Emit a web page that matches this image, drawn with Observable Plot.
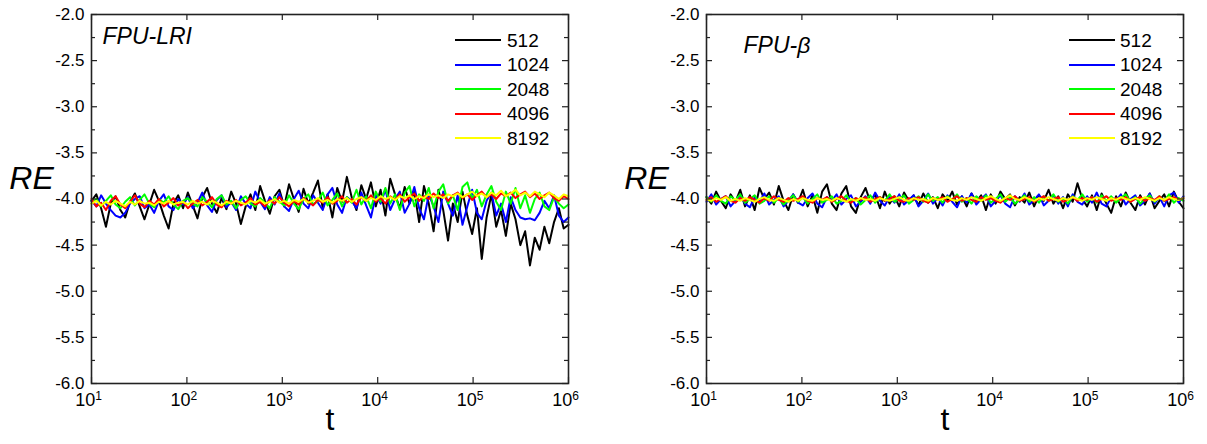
<!DOCTYPE html>
<html><head><meta charset="utf-8">
<script src="https://cdn.jsdelivr.net/npm/d3@7"></script>
<script src="https://cdn.jsdelivr.net/npm/@observablehq/plot@0.6"></script>
<style>
body{margin:0;background:#fff;}
#wrap{position:relative;width:1207px;height:444px;display:flex;}
#wrap svg{display:block;}
.lg{position:absolute;font-family:"Liberation Sans",Arial,sans-serif;font-size:19px;line-height:19px;color:#000;white-space:nowrap;}
.lgl{position:absolute;height:2px;width:46px;}
</style></head><body><div id="wrap"></div>
<script>
const sizes = ["512","1024","2048","4096","8192"];
const colors = ["#000000","#0000ff","#00ff00","#ff0000","#ffff00"];
const yMajor = [-6,-5.5,-5,-4.5,-4,-3.5,-3,-2.5,-2];
const yMinor = [-5.75,-5.25,-4.75,-4.25,-3.75,-3.25,-2.75,-2.25];
const xTicks = [1e1,1e2,1e3,1e4,1e5,1e6];
const xTickBase = "10";
const xTickExponents = ["1","2","3","4","5","6"];
const panelTitles = ["FPU-LRI","FPU-\u03b2"];
const nPoints = 100;

// FPU-LRI panel
const lri512 = [-4.02,-3.95,-4.10,-4.30,-4.05,-3.97,-4.12,-4.20,-4.03,-3.94,
-4.08,-4.22,-4.06,-3.90,-4.02,-4.18,-4.32,-4.05,-3.96,-4.10,
-3.93,-4.07,-4.21,-3.98,-3.88,-4.05,-4.15,-3.99,-4.11,-3.92,
-4.05,-4.27,-4.08,-3.95,-4.12,-3.86,-4.02,-4.16,-3.97,-3.90,
-4.08,-3.84,-4.00,-4.14,-3.89,-4.05,-3.93,-3.80,-4.10,-3.95,
-4.20,-3.88,-4.03,-3.76,-3.98,-4.12,-3.85,-4.00,-3.82,-4.08,
-3.90,-4.18,-3.78,-3.95,-4.10,-3.87,-4.05,-3.92,-4.25,-3.86,
-4.05,-4.35,-3.90,-4.12,-4.45,-4.05,-4.25,-3.92,-4.18,-4.38,
-4.10,-4.65,-4.20,-3.95,-4.30,-4.12,-4.40,-4.05,-4.22,-4.50,
-4.35,-4.72,-4.42,-4.55,-4.30,-4.48,-4.25,-4.10,-4.32,-4.28];
const lri1024 = [-4.02,-4.08,-3.96,-4.05,-4.12,-4.18,-4.20,-4.15,-4.05,-4.00,
-3.97,-4.10,-4.06,-4.15,-4.02,-3.95,-4.08,-4.12,-4.00,-4.06,
-3.98,-4.10,-4.04,-3.93,-4.07,-4.14,-4.01,-3.96,-4.09,-4.03,
-4.12,-3.97,-4.05,-4.10,-3.92,-4.03,-4.11,-3.98,-4.06,-3.94,
-4.08,-4.13,-4.00,-3.91,-4.05,-4.10,-3.96,-4.04,-4.12,-3.95,
-3.88,-4.06,-4.15,-3.98,-4.02,-4.10,-3.93,-4.07,-4.20,-3.96,
-4.05,-3.90,-4.12,-4.00,-3.92,-4.15,-4.05,-3.87,-4.10,-4.22,
-3.95,-4.08,-4.25,-3.92,-4.05,-4.18,-3.96,-4.28,-4.08,-3.90,
-4.15,-4.22,-4.02,-3.93,-4.18,-4.05,-4.25,-3.98,-4.12,-4.20,
-4.22,-4.21,-4.23,-4.15,-4.02,-4.10,-3.96,-4.18,-4.25,-4.20];
const lri2048 = [-4.05,-4.00,-4.08,-4.02,-3.96,-4.06,-4.10,-4.03,-3.98,-4.07,
-4.01,-3.95,-4.05,-4.09,-4.00,-4.04,-3.97,-4.06,-4.11,-4.02,
-3.99,-4.05,-4.08,-3.98,-4.03,-4.09,-4.00,-3.96,-4.06,-4.02,
-4.10,-4.01,-3.97,-4.05,-4.08,-3.99,-4.04,-4.10,-3.98,-4.03,
-4.07,-3.96,-4.05,-4.11,-4.00,-3.95,-4.06,-4.02,-3.93,-4.07,
-4.01,-3.94,-4.08,-3.98,-4.04,-3.90,-4.06,-3.97,-4.10,-3.92,
-4.03,-3.88,-4.05,-3.95,-4.12,-3.93,-3.86,-4.08,-3.95,-4.02,
-3.88,-4.10,-3.92,-3.84,-4.05,-3.96,-4.12,-3.87,-3.82,-4.00,
-3.90,-4.08,-3.95,-3.86,-4.03,-4.12,-3.92,-4.05,-3.88,-4.10,
-3.96,-4.15,-4.00,-3.93,-4.08,-4.12,-3.98,-4.05,-4.10,-4.06];
const lri4096 = [-4.00,-4.08,-4.04,-4.12,-4.02,-3.97,-4.06,-4.10,-4.03,-3.96,
-4.05,-4.09,-4.02,-4.06,-4.00,-4.08,-4.04,-3.99,-4.07,-4.03,
-4.10,-4.05,-4.01,-4.07,-4.03,-3.98,-4.06,-4.09,-4.02,-4.05,
-4.01,-4.07,-4.04,-3.99,-4.06,-4.03,-4.08,-4.01,-4.05,-3.98,
-4.04,-4.08,-4.02,-4.06,-3.99,-4.03,-4.07,-4.01,-4.04,-3.98,
-4.05,-4.02,-3.97,-4.04,-4.00,-4.06,-3.98,-4.02,-3.96,-4.03,
-3.99,-4.05,-3.97,-4.01,-3.95,-4.03,-3.98,-3.94,-4.02,-3.97,
-4.00,-3.94,-3.99,-3.95,-4.02,-3.96,-3.93,-3.99,-3.95,-4.01,
-3.96,-3.92,-3.98,-3.95,-4.00,-3.94,-3.97,-3.93,-3.99,-3.95,
-3.92,-3.98,-3.94,-4.00,-3.96,-3.93,-3.99,-4.02,-3.97,-4.00];
const lri8192 = [-4.05,-4.02,-4.07,-4.03,-4.06,-4.02,-4.05,-4.08,-4.03,-4.06,
-4.02,-4.05,-4.04,-4.07,-4.03,-4.05,-4.02,-4.06,-4.04,-4.03,
-4.06,-4.02,-4.05,-4.03,-4.06,-4.02,-4.04,-4.07,-4.03,-4.05,
-4.02,-4.04,-4.06,-4.02,-4.04,-4.01,-4.05,-4.03,-4.00,-4.04,
-4.02,-4.05,-4.01,-4.03,-4.00,-4.04,-4.02,-3.99,-4.03,-4.01,
-4.04,-4.00,-4.02,-3.99,-4.03,-4.00,-3.98,-4.02,-3.99,-4.01,
-3.97,-4.00,-3.98,-4.01,-3.97,-3.99,-3.96,-4.00,-3.97,-3.99,
-3.95,-3.98,-3.96,-3.99,-3.95,-3.97,-3.94,-3.98,-3.95,-3.92,
-3.97,-3.94,-3.98,-3.93,-3.96,-3.91,-3.97,-3.94,-3.90,-3.96,
-3.93,-3.97,-3.92,-3.95,-3.98,-3.93,-3.96,-4.00,-3.95,-3.97];

// FPU-beta panel
const beta512 = [-3.98,-4.05,-3.92,-4.02,-4.10,-3.95,-4.03,-3.90,-4.08,-3.96,
-4.12,-3.88,-4.00,-3.93,-4.06,-3.86,-4.02,-4.12,-3.95,-4.04,
-3.90,-4.08,-3.96,-4.15,-3.92,-3.84,-4.05,-4.12,-3.94,-3.86,
-4.08,-4.15,-3.98,-3.88,-4.03,-3.95,-4.10,-3.92,-4.05,-3.97,
-4.08,-3.93,-4.02,-3.96,-4.07,-3.94,-4.04,-3.98,-4.10,-3.95,
-4.02,-3.92,-4.06,-3.97,-4.08,-3.94,-4.03,-3.96,-4.12,-3.95,
-4.05,-3.92,-4.00,-3.95,-4.07,-3.98,-4.04,-3.93,-4.08,-3.96,
-4.02,-3.90,-4.05,-3.97,-4.10,-3.95,-4.03,-3.83,-4.00,-4.08,
-3.96,-4.12,-3.94,-4.05,-4.15,-3.97,-4.08,-3.93,-4.04,-4.12,
-3.96,-4.06,-3.94,-4.10,-4.02,-3.95,-4.08,-3.92,-4.03,-4.10];
const beta1024 = [-4.03,-3.95,-4.06,-4.00,-3.97,-4.08,-4.02,-3.96,-4.05,-4.09,
-3.98,-4.03,-3.94,-4.06,-4.01,-3.97,-4.08,-4.02,-3.95,-4.04,
-4.07,-3.99,-3.94,-4.05,-4.09,-3.98,-4.02,-3.95,-4.06,-4.00,
-3.96,-4.08,-4.03,-3.97,-4.05,-3.93,-4.02,-4.07,-3.98,-4.04,
-3.95,-4.06,-4.01,-3.96,-4.08,-4.02,-3.94,-4.05,-3.99,-4.07,
-3.96,-4.03,-4.09,-3.97,-4.04,-3.94,-4.06,-4.00,-3.95,-4.08,
-4.02,-3.96,-4.05,-4.09,-3.97,-4.03,-3.94,-4.06,-4.01,-3.95,
-4.07,-4.02,-3.96,-4.05,-3.98,-4.08,-3.95,-4.03,-4.06,-3.97,
-4.04,-3.93,-4.05,-4.08,-3.98,-4.02,-3.95,-4.06,-4.00,-3.96,
-4.07,-4.02,-3.94,-4.05,-3.98,-4.08,-3.96,-3.93,-4.04,-3.97];
const beta2048 = [-3.98,-4.03,-3.96,-4.02,-4.05,-3.97,-4.01,-3.95,-4.04,-4.00,
-3.96,-4.05,-4.02,-3.97,-4.04,-3.99,-4.06,-4.01,-3.96,-4.03,
-3.98,-4.05,-4.00,-3.95,-4.04,-4.01,-3.97,-4.05,-4.02,-3.96,
-4.03,-3.99,-4.06,-4.01,-3.96,-4.04,-3.98,-4.02,-3.95,-4.03,
-4.00,-3.96,-4.05,-4.01,-3.97,-4.03,-3.95,-4.02,-3.98,-4.04,
-3.97,-4.01,-3.95,-4.03,-3.99,-4.05,-3.97,-4.02,-3.96,-4.04,
-4.00,-3.95,-4.03,-3.98,-4.05,-4.01,-3.96,-4.03,-3.98,-4.04,
-3.97,-4.02,-3.95,-4.03,-3.99,-4.05,-3.97,-4.01,-3.95,-4.03,
-3.98,-4.04,-3.96,-4.02,-3.97,-4.04,-3.99,-3.95,-4.03,-3.98,
-4.05,-4.00,-3.96,-4.03,-3.97,-4.02,-3.95,-4.04,-3.99,-4.02];
const beta4096 = [-4.01,-3.98,-4.03,-4.00,-3.97,-4.02,-4.04,-3.99,-4.02,-3.98,
-4.01,-4.04,-3.99,-4.02,-3.97,-4.01,-4.03,-3.99,-4.02,-4.00,
-3.97,-4.02,-4.04,-3.99,-4.01,-3.98,-4.03,-4.00,-3.97,-4.02,
-4.04,-3.99,-4.01,-3.98,-4.03,-4.00,-3.98,-4.02,-4.00,-3.97,
-4.02,-4.03,-3.99,-4.01,-3.98,-4.02,-4.04,-3.99,-4.01,-3.98,
-4.03,-4.00,-3.97,-4.02,-3.99,-4.01,-4.03,-3.98,-4.01,-3.99,
-4.02,-4.04,-3.99,-4.01,-3.97,-4.02,-4.00,-3.98,-4.03,-4.00,
-3.97,-4.02,-4.00,-3.98,-4.03,-4.01,-3.98,-4.02,-3.99,-4.01,
-3.98,-4.03,-4.00,-3.97,-4.02,-3.99,-4.01,-3.98,-4.03,-4.00,
-3.98,-4.02,-3.99,-4.01,-3.97,-4.02,-4.00,-3.98,-4.01,-3.99];
const beta8192 = [-4.00,-4.02,-3.99,-4.01,-3.98,-4.02,-4.00,-4.02,-3.99,-4.01,
-4.03,-4.00,-3.98,-4.01,-4.02,-3.99,-4.01,-4.03,-4.00,-4.02,
-3.99,-4.01,-4.02,-3.99,-4.01,-4.00,-4.02,-3.99,-4.01,-4.03,
-4.00,-4.02,-3.99,-4.01,-4.00,-4.02,-3.99,-4.01,-4.02,-4.00,
-3.98,-4.01,-4.02,-3.99,-4.01,-4.00,-4.02,-3.99,-4.01,-4.00,
-3.98,-4.01,-4.02,-3.99,-4.01,-3.98,-4.00,-4.02,-3.99,-3.97,
-4.00,-4.02,-3.99,-3.96,-4.00,-4.01,-3.98,-4.00,-4.02,-3.99,
-4.01,-3.98,-4.00,-4.02,-3.99,-4.01,-3.98,-4.00,-4.02,-3.99,
-4.01,-3.98,-4.00,-4.02,-3.99,-4.01,-3.98,-4.00,-4.01,-3.99,
-4.01,-3.98,-4.00,-4.02,-3.99,-4.01,-3.98,-4.00,-4.01,-3.99];

const tGrid = d3.range(nPoints).map(i => Math.pow(10, 1 + 5 * i / (nPoints - 1)));
const FONT = '"Liberation Sans", Arial, sans-serif';
const H = 444, MT = 14, MB = 61;

function panel(series, title, opts) {
  const {width, marginLeft, marginRight, titleDx, titleDy} = opts;
  const data = [];
  series.forEach((vals, k) => vals.forEach((v, i) => data.push({t: tGrid[i], re: v, n: sizes[k]})));
  const plotW = width - marginLeft - marginRight;
  const plotH = H - MT - MB;
  const svg = Plot.plot({
    width, height: H, marginLeft, marginRight, marginTop: MT, marginBottom: MB,
    style: {fontFamily: FONT, background: "#fff", overflow: "visible", color: "#000"},
    x: {type: "log", domain: [10, 1e6]},
    y: {domain: [-6, -2]},
    color: {domain: sizes, range: colors},
    marks: [
      Plot.line(data, {x: "t", y: "re", z: "n", stroke: "n", strokeWidth: 2, curve: "linear"}),
      Plot.tickY(yMajor, {y: d => d, insetRight: plotW - 6, stroke: "#222", strokeWidth: 1.2}),
      Plot.tickY(yMinor, {y: d => d, insetRight: plotW - 4, stroke: "#222", strokeWidth: 1.2}),
      Plot.tickY(yMajor, {y: d => d, insetLeft: plotW - 6, stroke: "#222", strokeWidth: 1.2}),
      Plot.tickY(yMinor, {y: d => d, insetLeft: plotW - 4, stroke: "#222", strokeWidth: 1.2}),
      Plot.tickX(xTicks, {x: d => d, insetTop: plotH - 6, stroke: "#222", strokeWidth: 1.2}),
      Plot.tickX(xTicks, {x: d => d, insetBottom: plotH - 6, stroke: "#222", strokeWidth: 1.2}),
      Plot.frame({stroke: "#222", strokeWidth: 1.6}),
      Plot.axisY(yMajor, {anchor: "left", tickSize: 0, tickPadding: 7, fontSize: 17, label: null, tickFormat: d => d.toFixed(1)}),
      Plot.axisX(xTicks, {anchor: "bottom", tickSize: 0, tickPadding: 10, fontSize: 18, label: null,
        tickFormat: d => xTickBase, dx: -3}),
      Plot.text(["t"], {text: d => d, frameAnchor: "bottom", dy: 46, fontSize: 32}),
      Plot.text(["RE"], {text: d => d, frameAnchor: "left", dx: -60, dy: -20, fontSize: 32, fontStyle: "italic", textAnchor: "middle"}),
      Plot.text([title], {text: d => d, frameAnchor: "top-left", dx: titleDx, dy: titleDy, fontSize: 23, fontStyle: "italic", textAnchor: "start", lineAnchor: "bottom"})
    ]
  });
  // add superscript exponents to the x tick labels
  d3.select(svg).selectAll('g[aria-label="x-axis tick label"] text').each(function(_, i) {
    const t = d3.select(this);
    t.append("tspan").attr("font-size", 12).attr("dy", "-0.55em").text(xTickExponents[i]);
  });
  return svg;
}

const wrap = document.getElementById("wrap");
const left = panel([lri512, lri1024, lri2048, lri4096, lri8192], panelTitles[0],
  {width: 603, marginLeft: 91, marginRight: 35, titleDx: 11, titleDy: 29});
const right = panel([beta512, beta1024, beta2048, beta4096, beta8192], panelTitles[1],
  {width: 604, marginLeft: 103, marginRight: 24, titleDx: 37, titleDy: 38});
wrap.appendChild(left);
wrap.appendChild(right);

function legend(lineX, textX) {
  sizes.forEach((s, i) => {
    const y = 40 + 24.5 * i;
    const ln = document.createElement("div");
    ln.className = "lgl";
    ln.style.left = lineX + "px"; ln.style.top = (y - 1) + "px"; ln.style.background = colors[i];
    wrap.appendChild(ln);
    const tx = document.createElement("div");
    tx.className = "lg";
    tx.style.left = textX + "px"; tx.style.top = (y - 9.5) + "px";
    tx.textContent = s;
    wrap.appendChild(tx);
  });
}
legend(455, 507);
legend(1069, 1120);
</script>
</body></html>
